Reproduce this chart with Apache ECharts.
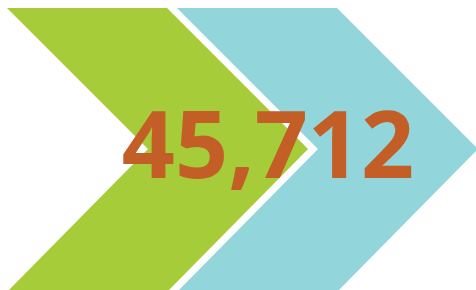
<!DOCTYPE html>
<html>
<head>
<meta charset="utf-8">
<script src="https://cdn.jsdelivr.net/npm/echarts@6/dist/echarts.min.js"></script>
<style>
html,body{margin:0;padding:0;background:#fff;}
#chart{width:476px;height:290px;}
</style>
</head>
<body>
<div id="chart"></div>
<script>
// data
const steps = ["Step 1", "Step 2"];
const stepColors = ["#A6CC39", "#92D5DA"];
const totals = [45712];

let myChart = echarts.init(document.getElementById("chart"));

// chevron geometry in axis units
const left0 = 7, pitch = 170, bodyW = 160, depth = 141, top0 = 8, mid0 = 149, bottom0 = 290;

myChart.setOption({
    animation: false,
    grid: {left: 0, right: 0, top: 0, bottom: 0},
    xAxis: {type: "value", min: 0, max: 476, show: false},
    yAxis: {type: "value", min: 0, max: 290, inverse: true, show: false},
    series: [
        {
            type: "custom",
            data: steps.map((s, i) => [i]),
            renderItem: function (params, api) {
                let i = api.value(0);
                let x0 = left0 + i * pitch;
                let pts = [
                    [x0, top0],
                    [x0 + bodyW, top0],
                    [x0 + bodyW + depth, mid0],
                    [x0 + bodyW, bottom0 + 2],
                    [x0, bottom0 + 2],
                    [x0 + depth, mid0]
                ].map(p => api.coord(p));
                return {
                    type: "polygon",
                    shape: {points: pts},
                    style: {fill: stepColors[i]}
                };
            }
        },
        {
            type: "custom",
            data: totals.map(v => [268, 151, v]),
            z: 5,
            renderItem: function (params, api) {
                let p = api.coord([api.value(0), api.value(1)]);
                return {
                    type: "text",
                    x: p[0],
                    y: p[1],
                    style: {
                        text: api.value(2).toLocaleString("en-US"),
                        fill: "#C45E27",
                        font: "bold 93px 'Open Sans'",
                        align: "center",
                        verticalAlign: "middle"
                    }
                };
            }
        }
    ]
});
</script>
</body>
</html>
